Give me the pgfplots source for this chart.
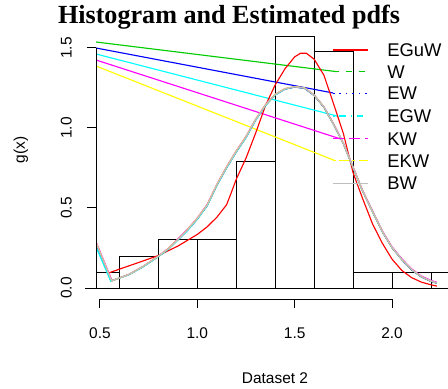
\documentclass[border=0pt]{standalone}
\usepackage{pgfplots}
\usepackage{pgfplotstable}
\pgfplotsset{compat=1.18}
\usepackage{fontspec}
\setmainfont{Liberation Sans}
\newfontfamily\titlefont{Liberation Serif}
\definecolor{rred}{RGB}{255,0,0}
\definecolor{rgreen}{RGB}{0,205,0}
\definecolor{rblue}{RGB}{0,0,255}
\definecolor{rcyan}{RGB}{0,255,255}
\definecolor{rmagenta}{RGB}{255,0,255}
\definecolor{ryellow}{RGB}{255,255,0}
\definecolor{rgray}{RGB}{190,190,190}

\pgfplotstableread{
x y
0.54 0.092
0.60 0.118
0.70 0.160
0.80 0.203
0.90 0.262
1.00 0.335
1.05 0.382
1.10 0.442
1.15 0.520
1.175 0.598
1.20 0.680
1.25 0.812
1.30 0.970
1.35 1.140
1.40 1.270
1.45 1.370
1.50 1.445
1.53 1.467
1.56 1.467
1.60 1.430
1.65 1.330
1.70 1.150
1.75 0.965
1.80 0.720
1.85 0.555
1.90 0.400
1.95 0.280
2.00 0.180
2.05 0.110
2.10 0.065
2.15 0.037
2.20 0.020
2.23 0.012
}\egutab

\pgfplotstableread{
x y
0.4795 0.270
0.56 0.045
0.65 0.085
0.72 0.133
0.80 0.198
0.85 0.243
0.90 0.302
0.95 0.362
1.00 0.432
1.05 0.515
1.10 0.642
1.15 0.752
1.20 0.852
1.25 0.942
1.30 1.052
1.35 1.142
1.40 1.208
1.45 1.244
1.50 1.256
1.55 1.249
1.60 1.204
1.65 1.130
1.70 1.022
1.75 0.902
1.80 0.752
1.85 0.602
1.90 0.477
1.95 0.352
2.00 0.252
2.05 0.178
2.10 0.115
2.15 0.070
2.20 0.042
2.23 0.031
}\wtab

\pgfplotstableread{
x y
0.4795 0.265
0.557 0.044
0.65 0.084
0.72 0.132
0.80 0.197
0.85 0.242
0.90 0.301
0.95 0.361
1.00 0.431
1.05 0.514
1.10 0.641
1.15 0.751
1.20 0.851
1.25 0.941
1.30 1.051
1.35 1.141
1.40 1.207
1.45 1.243
1.50 1.256
1.55 1.248
1.60 1.203
1.65 1.129
1.70 1.021
1.75 0.901
1.80 0.751
1.85 0.601
1.90 0.476
1.95 0.351
2.00 0.251
2.05 0.177
2.10 0.114
2.15 0.069
2.20 0.041
2.23 0.030
}\ewtab

\pgfplotstableread{
x y
0.4795 0.258
0.555 0.043
0.65 0.083
0.72 0.131
0.80 0.196
0.85 0.241
0.90 0.300
0.95 0.360
1.00 0.430
1.05 0.513
1.10 0.640
1.15 0.750
1.20 0.850
1.25 0.940
1.30 1.050
1.35 1.140
1.40 1.206
1.45 1.243
1.50 1.257
1.55 1.250
1.60 1.206
1.65 1.132
1.70 1.024
1.75 0.904
1.80 0.754
1.85 0.604
1.90 0.479
1.95 0.354
2.00 0.254
2.05 0.180
2.10 0.117
2.15 0.072
2.20 0.044
2.23 0.032
}\egwtab

\pgfplotstableread{
x y
0.4795 0.290
0.562 0.046
0.65 0.086
0.72 0.135
0.80 0.200
0.85 0.247
0.90 0.307
0.95 0.368
1.00 0.438
1.05 0.522
1.10 0.648
1.15 0.758
1.20 0.858
1.25 0.948
1.30 1.057
1.35 1.146
1.40 1.211
1.45 1.246
1.50 1.258
1.55 1.251
1.60 1.207
1.65 1.133
1.70 1.026
1.75 0.906
1.80 0.757
1.85 0.607
1.90 0.482
1.95 0.357
2.00 0.257
2.05 0.183
2.10 0.120
2.15 0.075
2.20 0.047
2.23 0.036
}\kwtab

\pgfplotstableread{
x y
0.4795 0.285
0.56 0.045
0.65 0.085
0.72 0.134
0.80 0.199
0.85 0.245
0.90 0.305
0.95 0.366
1.00 0.436
1.05 0.519
1.10 0.646
1.15 0.756
1.20 0.856
1.25 0.946
1.30 1.055
1.35 1.145
1.40 1.210
1.45 1.246
1.50 1.259
1.55 1.251
1.60 1.206
1.65 1.131
1.70 1.023
1.75 0.903
1.80 0.753
1.85 0.603
1.90 0.478
1.95 0.353
2.00 0.253
2.05 0.179
2.10 0.116
2.15 0.071
2.20 0.043
2.23 0.032
}\ekwtab

\pgfplotstableread{
x y
0.4795 0.280
0.56 0.045
0.65 0.085
0.72 0.134
0.80 0.199
0.85 0.244
0.90 0.303
0.95 0.364
1.00 0.434
1.05 0.517
1.10 0.644
1.15 0.754
1.20 0.854
1.25 0.944
1.30 1.054
1.35 1.144
1.40 1.209
1.45 1.245
1.50 1.258
1.55 1.250
1.60 1.205
1.65 1.131
1.70 1.023
1.75 0.903
1.80 0.753
1.85 0.603
1.90 0.478
1.95 0.353
2.00 0.253
2.05 0.179
2.10 0.116
2.15 0.071
2.20 0.043
2.23 0.032
}\bwtab

\begin{document}
\begin{tikzpicture}
\useasboundingbox (-72pt,-66.75pt) rectangle (264pt,224.25pt);
\begin{axis}[
  x=146.03pt, y=120pt,
  xmin=0.4795, xmax=2.2874, ymin=-0.06875, ymax=1.7875,
  axis line style={draw=none},
  clip mode=individual,
  xtick={0.5,1,1.5,2}, ytick={0,0.5,1,1.5},
  xticklabels={}, yticklabels={},
  xtick pos=bottom, ytick pos=left,
  tick align=outside, major tick length=7pt,
  tick style={black, line width=0.75pt},
  font=\fontsize{11.6}{13}\selectfont,
]
% histogram
\addplot[ybar interval, draw=black, fill=none, line width=0.75pt, forget plot] coordinates {
 (0.4795,0.1) (0.6,0.2) (0.8,0.3) (1.0,0.3) (1.2,0.79) (1.4,1.569) (1.6,1.477)
 (1.8,0.1) (2.0,0.1) (2.2,0.1) (2.4,0.1)};
% straight line segments
\addplot[rgreen, line width=0.85pt, forget plot] coordinates {(0.4795,1.5375) (1.717,1.352)};
\addplot[rblue, line width=0.85pt, forget plot] coordinates {(0.4795,1.50) (1.697,1.219)};
\addplot[rcyan, line width=0.85pt, forget plot] coordinates {(0.4795,1.4625) (1.717,1.075)};
\addplot[rmagenta, line width=0.85pt, forget plot] coordinates {(0.4795,1.425) (1.732,0.933)};
\addplot[ryellow, line width=0.85pt, forget plot] coordinates {(0.4795,1.3875) (1.707,0.796)};
% density curves
\addplot[rred, line width=0.85pt, forget plot] table[x=x,y=y] {\egutab};
\addplot[rgreen, line width=0.85pt, forget plot] table[x=x,y=y] {\wtab};
\addplot[rblue, line width=0.85pt, forget plot] table[x=x,y=y] {\ewtab};
\addplot[rcyan, line width=0.85pt, forget plot] table[x=x,y=y] {\egwtab};
\addplot[rmagenta, line width=0.85pt, forget plot] table[x=x,y=y] {\kwtab};
\addplot[ryellow, line width=0.85pt, forget plot] table[x=x,y=y] {\ekwtab};
\addplot[rgray, line width=0.85pt, forget plot] table[x=x,y=y] {\bwtab};
% legend (decoration)
\draw[rred, line width=0.85pt] (axis cs:1.6967,1.4875) -- (axis cs:1.8765,1.4875);
\draw[rgreen, line width=0.85pt, dash pattern=on 4.8pt off 4.8pt] (axis cs:1.6967,1.3519) -- (axis cs:1.8765,1.3519);
\draw[rblue, line width=0.85pt, dash pattern=on 1.2pt off 3.6pt] (axis cs:1.6967,1.2169) -- (axis cs:1.8765,1.2169);
\draw[rcyan, line width=0.85pt, dash pattern=on 1.2pt off 3.6pt on 4.8pt off 3.6pt] (axis cs:1.6967,1.075) -- (axis cs:1.8765,1.075);
\draw[rmagenta, line width=0.85pt, dash pattern=on 8.4pt off 3.6pt] (axis cs:1.6967,0.9331) -- (axis cs:1.8765,0.9331);
\draw[ryellow, line width=0.85pt, dash pattern=on 2.4pt off 2.4pt on 7.2pt off 2.4pt] (axis cs:1.6967,0.7956) -- (axis cs:1.8765,0.7956);
\draw[rgray, line width=0.85pt] (axis cs:1.6967,0.6544) -- (axis cs:1.8765,0.6544);
\begin{scope}[every node/.style={anchor=base west, inner sep=0pt, font=\fontsize{13.8}{15}\selectfont}]
\node at (axis cs:1.974,1.4463) {EGuW};
\node at (axis cs:1.974,1.3107) {W};
\node at (axis cs:1.974,1.1757) {EW};
\node at (axis cs:1.974,1.0338) {EGW};
\node at (axis cs:1.974,0.8919) {KW};
\node at (axis cs:1.974,0.7544) {EKW};
\node at (axis cs:1.974,0.6132) {BW};
\end{scope}
% axes decoration
\draw[black, line width=0.75pt] (axis cs:0.4795,0) -- (axis cs:0.4795,1.5);
\draw[black, line width=0.75pt] (axis cs:0.5,-0.06875) -- (axis cs:2,-0.06875);
\draw[black, line width=0.75pt] (axis cs:0.423,0) -- (axis cs:2.2874,0);
% tick labels
\node[anchor=base] at (axis cs:0.5,-0.3125) {0.5};
\node[anchor=base] at (axis cs:1.0,-0.3125) {1.0};
\node[anchor=base] at (axis cs:1.5,-0.3125) {1.5};
\node[anchor=base] at (axis cs:2.0,-0.3125) {2.0};
\node[rotate=90, anchor=base] at (axis cs:0.3547,0) {0.0};
\node[rotate=90, anchor=base] at (axis cs:0.3547,0.5) {0.5};
\node[rotate=90, anchor=base] at (axis cs:0.3547,1.0) {1.0};
\node[rotate=90, anchor=base] at (axis cs:0.3547,1.5) {1.5};
% axis labels and title
\node[anchor=base] at (axis cs:1.3988,-0.59375) {Dataset 2};
\node[rotate=90, anchor=base] at (axis cs:0.1148,0.8625) {g(x)};
\node[anchor=base, font=\titlefont\bfseries\fontsize{19.6}{22}\selectfont] at (axis cs:1.1626,1.656) {Histogram and Estimated pdfs};
\end{axis}
\end{tikzpicture}
\end{document}
